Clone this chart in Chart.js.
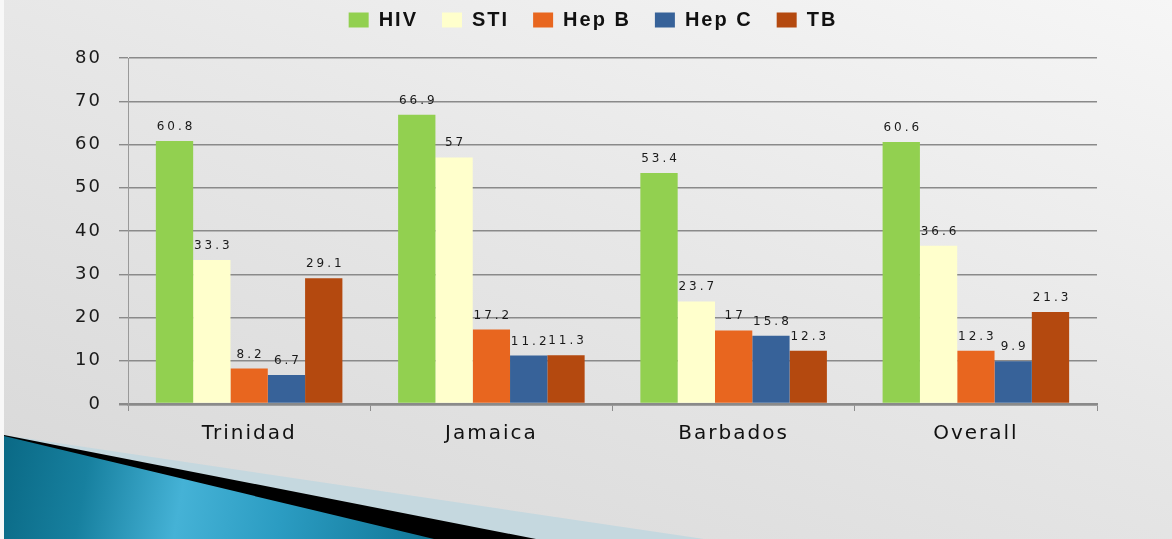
<!DOCTYPE html>
<html lang="en">
<head>
<meta charset="UTF-8">
<title>HIV, STI, Hep B, Hep C, TB by country</title>
<script src="https://cdn.jsdelivr.net/npm/chart.js@4"></script>
<style>
html, body { margin: 0; padding: 0; }
body {
    width: 1172px;
    height: 539px;
    overflow: hidden;
    position: relative;
    background: linear-gradient(200deg, #f6f6f6 0%, #e7e7e7 45%, #d7d7d7 100%);
}
/* slide decoration, bottom left */
.edge { position: absolute; left: 0; top: 0; width: 4px; height: 539px; background: #f8f8f8; }
.deco { position: absolute; left: 4px; top: 430px; height: 109px; }
.pale  { width: 700px; background: #c5d8df; clip-path: polygon(0 5px, 700px 109px, 0 109px); }
.black { width: 532px; background: #000; clip-path: polygon(0 5px, 532px 109px, 0 109px); }
.blue  {
    width: 430px;
    background: linear-gradient(100deg, #0a6985 0%, #17809f 20%, #45b2d6 42%, #2b9cc2 65%, #0f7595 100%);
    clip-path: polygon(0 6px, 430px 109px, 0 109px);
}
#chart { position: absolute; left: 0; top: 0; z-index: 2; }
</style>
</head>
<body>
<div class="edge"></div>
<div class="deco pale"></div>
<div class="deco black"></div>
<div class="deco blue"></div>
<canvas id="chart" width="1172" height="539"></canvas>

<script>
// data
const categories = ['Trinidad', 'Jamaica', 'Barbados', 'Overall'];
const hiv  = [60.8, 66.9, 53.4, 60.6];
const sti  = [33.3, 57, 23.7, 36.6];
const hepB = [8.2, 17.2, 17, 12.3];
const hepC = [6.7, 11.2, 15.8, 9.9];
const tb   = [29.1, 11.3, 12.3, 21.3];
const seriesNames  = ['HIV', 'STI', 'Hep B', 'Hep C', 'TB'];
const seriesColors = ['#92d050', '#ffffcc', '#e8661f', '#376299', '#b4490f'];
const yMin = 0, yMax = 80, yStep = 10;

const seriesData = [hiv, sti, hepB, hepC, tb];

// stretch all canvas text a bit, the original is wide
const spacing = {
    id: 'spacing',
    beforeUpdate(chart) { chart.ctx.letterSpacing = '2px'; },
    beforeDraw(chart) { chart.ctx.letterSpacing = '2px'; }
};

// legend takes the whole band above the plot, centred a bit right of the page middle
const legendBand = {
    id: 'legendBand',
    afterInit(chart) {
        const fit = chart.legend.fit;
        chart.legend.fit = function () {
            fit.call(this);
            this.height = 72;
        };
    },
    afterLayout(chart) {
        chart.legend.left = 89;
        chart.legend.right = 1097;
        chart.legend.width = 1097 - 89;
    }
};

// value above each bar
const valueLabels = {
    id: 'valueLabels',
    afterDatasetsDraw(chart) {
        const ctx = chart.ctx;
        ctx.save();
        ctx.font = '12px "DejaVu Sans"';
        ctx.letterSpacing = '3px';
        ctx.fillStyle = '#1a1a1a';
        ctx.textAlign = 'center';
        ctx.textBaseline = 'alphabetic';
        chart.data.datasets.forEach((ds, i) => {
            chart.getDatasetMeta(i).data.forEach((bar, j) => {
                ctx.fillText(String(ds.data[j]), bar.x + 1.5, bar.y - 11);
            });
        });
        ctx.restore();
    }
};

const ctx = document.getElementById('chart').getContext('2d');
new Chart(ctx, {
    type: 'bar',
    data: {
        labels: categories,
        datasets: seriesNames.map((name, i) => ({
            label: name,
            data: seriesData[i],
            backgroundColor: seriesColors[i],
            borderWidth: 0,
            barPercentage: 1,
            categoryPercentage: 0.77
        }))
    },
    options: {
        responsive: false,
        animation: false,
        layout: { padding: { left: 0, right: 75, top: -14, bottom: 0 } },
        scales: {
            x: {
                afterFit(scale) { scale.height = 135; },
                grid: {
                    drawOnChartArea: false,
                    tickLength: 7,
                    color: '#8c8c8c'
                },
                border: { color: '#8a8a8a', width: 2.5 },
                ticks: {
                    padding: 11,
                    color: '#111',
                    font: { family: '"DejaVu Sans"', size: 20 }
                }
            },
            y: {
                min: yMin,
                max: yMax,
                afterFit(scale) { scale.width = 128; },
                grid: {
                    tickLength: 9,
                    color: '#8a8a8a',
                    lineWidth: c => (c.tick && c.tick.value === 0 ? 2.5 : 1.4)
                },
                border: { color: '#999', width: 1 },
                ticks: {
                    stepSize: yStep,
                    padding: 17,
                    color: '#1a1a1a',
                    font: { family: '"DejaVu Sans"', size: 18 }
                }
            }
        },
        plugins: {
            legend: {
                position: 'top',
                labels: {
                    boxWidth: 20,
                    boxHeight: 15,
                    padding: 24,
                    color: '#111',
                    font: { family: '"Liberation Sans"', size: 20, weight: 'bold' }
                }
            },
            tooltip: { enabled: false }
        }
    },
    plugins: [spacing, legendBand, valueLabels]
});
</script>
</body>
</html>
